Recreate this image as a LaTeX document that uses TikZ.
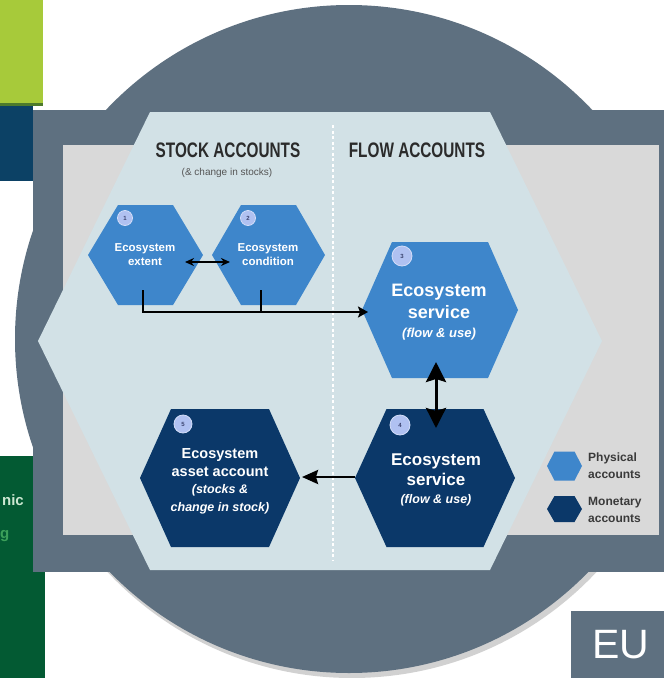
\documentclass[tikz,border=0pt]{standalone}
\usepackage{fontspec}
\setmainfont{Liberation Sans}
\usetikzlibrary{arrows.meta}
\definecolor{slate}{HTML}{5E7080}
\definecolor{paleblue}{HTML}{D2E1E6}
\definecolor{lgray}{HTML}{D9D9D9}
\definecolor{hexblue}{HTML}{3E86CB}
\definecolor{navy}{HTML}{0B3869}
\definecolor{numfill}{HTML}{B0C1F1}
\definecolor{numrim}{HTML}{D3DDF8}
\definecolor{numtext}{HTML}{3C4470}
\definecolor{limegreen}{HTML}{A7CA3A}
\definecolor{olive}{HTML}{4D7A2C}
\definecolor{darkteal}{HTML}{0C4165}
\definecolor{forest}{HTML}{035A33}
\definecolor{titlegray}{HTML}{2B2B2B}
\definecolor{legendgray}{HTML}{3A3A3A}
\newcommand\hexat[6]{\fill[#6] (#1-#4,#2-#5) -- (#1+#4,#2-#5) -- (#1+#3,#2) -- (#1+#4,#2+#5) -- (#1-#4,#2+#5) -- (#1-#3,#2) -- cycle;}
\newcommand\fs[2]{\fontsize{#1}{#2}\selectfont}
\begin{document}
\begin{tikzpicture}[x=1pt,y=-1pt,
  hextext/.style={text=white, align=center, inner sep=0pt},
  numc/.style={circle, fill=numfill, draw=numrim, line width=0.8pt, inner sep=0pt, minimum size=#1, text=numtext, font=\fs{6}{6}\bfseries},
  titletext/.style={text=titlegray, inner sep=0pt},
  legendtext/.style={text=legendgray, align=left, anchor=west, inner sep=0pt, font=\fs{12}{17}\bfseries},
  conn/.style={line width=2.6pt, draw=black},
  tipS/.style={-{Stealth[length=10pt,width=11pt,inset=2pt]}},
  tipB/.style={{Stealth[length=20pt,width=20pt,inset=3pt]}-{Stealth[length=20pt,width=20pt,inset=3pt]}}
]
\useasboundingbox (0,0) rectangle (664,678);
\fill[white] (0,0) rectangle (664,678);
% left side fragments
\fill[limegreen] (0,0) rectangle (43,103);
\fill[olive] (0,103) rectangle (43,106);
\fill[darkteal] (0,106) rectangle (33,181);
\fill[forest] (0,456) rectangle (45,678);
\node[anchor=east, inner sep=0pt, text={rgb,255:red,205;green,232;blue,210}, font=\fs{15}{15}\bfseries] (nictext) at (24,500) {nic};
\node[anchor=west, inner sep=0pt, text={rgb,255:red,60;green,160;blue,90}, font=\fs{15}{15}\bfseries] (gtext) at (0,536) {g};
% big circle with shadow
\fill[black, opacity=0.18] (352,343) circle[radius=335pt];
\fill[slate] (349,339) circle[radius=334pt];
% frame
\fill[slate] (33,110) rectangle (670,572);
\fill[lgray] (63,145) rectangle (659,535);
% large pale hexagon
\fill[paleblue] (150,112) -- (490,112) -- (602,341) -- (490,570) -- (150,570) -- (38,341) -- cycle;
\draw[white, line width=1.2pt, dash pattern=on 3pt off 2.5pt] (333,125) -- (333,560);
% titles
\node[titletext] (stocktitle) at (228,150) {\scalebox{0.73}[1]{\fs{21}{21}\bfseries STOCK ACCOUNTS}};
\node[titletext, text={rgb,255:red,85;green,85;blue,85}] (stocksub) at (227,173) {\fs{10}{10}(\& change in stocks)};
\node[titletext] (flowtitle) at (417,150) {\scalebox{0.73}[1]{\fs{21}{21}\bfseries FLOW ACCOUNTS}};
% hexagons
\hexat{145.5}{255}{57.5}{27.5}{50}{hexblue}
\hexat{268.5}{255}{56.5}{27.5}{50}{hexblue}
\hexat{440}{310}{78}{48}{68}{hexblue}
\hexat{435}{478}{80}{48.5}{69}{navy}
\hexat{220}{478}{80}{49}{69}{navy}
% numbers
\node[numc=15pt] (n1) at (125,218) {1};
\node[numc=15pt] (n2) at (248,218) {2};
\node[numc=20pt] (n3) at (402,256) {3};
\node[numc=20pt] (n4) at (400,425) {4};
\node[numc=18pt] (n5) at (183,424) {5};
% hex texts
\node[hextext, font=\fs{11.5}{14}\bfseries] (t1) at (145,255) {Ecosystem\\extent};
\node[hextext, font=\fs{11.5}{14}\bfseries] (t2) at (268,255) {Ecosystem\\condition};
\node[hextext, font=\fs{18}{22}\bfseries] (t3) at (439,312) {Ecosystem\\service\\[-3pt]\fs{13}{16}\bfseries\itshape (flow \& use)};
\node[hextext, font=\fs{17}{20}\bfseries] (t4) at (436,480) {Ecosystem\\service\\[-2pt]\fs{12.5}{16}\bfseries\itshape (flow \& use)};
\node[hextext, font=\fs{14.5}{18}\bfseries] (t5) at (220,481) {Ecosystem\\asset account\\[-1pt]\fs{12.5}{17}\bfseries\itshape (stocks \&\\\fs{12.5}{17}\bfseries\itshape change in stock)};
% connector coordinates
\coordinate (a1) at (185,262);
\coordinate (a2) at (230,262);
\coordinate (f1) at (143,290);
\coordinate (f2) at (261,290);
\coordinate (f2b) at (261,312);
\coordinate (in3) at (368,312);
\coordinate (b3) at (436,362);
\coordinate (t4top) at (436,428);
\coordinate (l4) at (355,477);
\coordinate (r5) at (302,477);
% connectors
\draw[line width=2pt, {Stealth[length=9pt,width=8pt]}-{Stealth[length=9pt,width=8pt]}] (a1) -- (a2);
\draw[conn, tipS] (f1) |- (in3);
\draw[conn] (f2) -- (f2b);
\draw[line width=3pt, tipB] (b3) -- (t4top);
\draw[conn, -{Stealth[length=16pt,width=14pt,inset=2pt]}] (l4) -- (r5);
% legend
\hexat{564.5}{466}{17.5}{10}{14.5}{hexblue}
\hexat{564.5}{509}{17.5}{10}{13}{navy}
\node[legendtext] (lg1) at (588,466) {Physical\\accounts};
\node[legendtext] (lg2) at (588,510) {Monetary\\accounts};
% EU box
\fill[slate] (571,611) rectangle (670,678);
\node[text=white, inner sep=0pt, font=\fs{41}{41}] (eu) at (621,645) {EU};
\end{tikzpicture}
\end{document}
